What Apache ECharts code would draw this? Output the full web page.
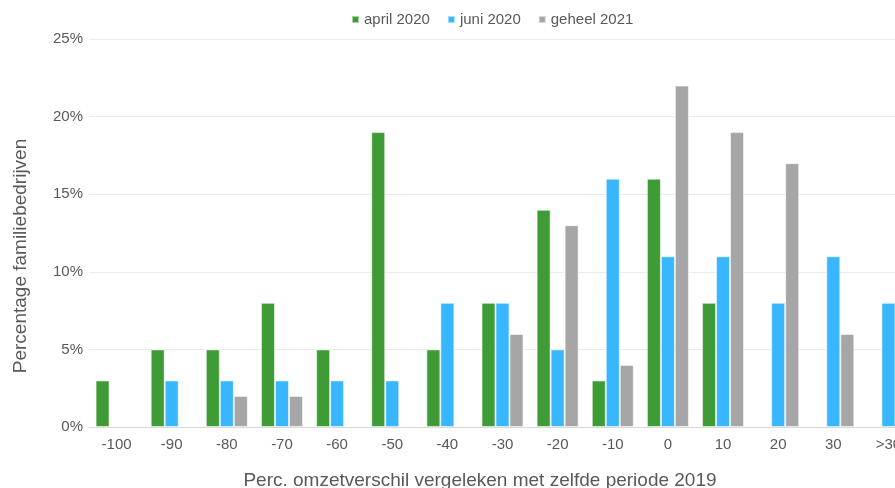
<!DOCTYPE html>
<html>
<head>
<meta charset="utf-8">
<script src="https://cdn.jsdelivr.net/npm/echarts@6/dist/echarts.min.js"></script>
<style>
  html, body { margin: 0; padding: 0; background: #fff; overflow: hidden; }
  #chart { width: 960px; height: 488px; }
</style>
</head>
<body>
<div id="chart"></div>
<script>
// categorieen (perc. omzetverschil)
const categories = ['-100', '-90', '-80', '-70', '-60', '-50', '-40', '-30', '-20', '-10', '0', '10', '20', '30', '>30'];
// percentages per periode
const april2020 = [3, 5, 5, 8, 5, 19, 5, 8, 14, 3, 16, 8, null, null, null];
const juni2020 = [null, 3, 3, 3, 3, 3, 8, 8, 5, 16, 11, 11, 8, 11, 8];
const geheel2021 = [null, null, 2, 2, null, null, null, 6, 13, 4, 22, 19, 17, 6, 6];
const seriesNames = ['april 2020', 'juni 2020', 'geheel 2021'];
const colors = ['#3f9b35', '#38b6ff', '#a6a6a6'];

const textColor = '#595959';
const font = 'Liberation Sans';

const chart = echarts.init(document.getElementById('chart'));
window.addEventListener('resize', () => chart.resize());

function barSeries(name, data) {
  return {
    name: name,
    type: 'bar',
    data: data,
    barWidth: 14,
    barGap: '0%',
    itemStyle: {
      borderColor: 'rgba(255,255,255,0.55)',
      borderWidth: 1
    }
  };
}

const option = {
  color: colors,
  animation: false,
  textStyle: { fontFamily: font, color: textColor },
  legend: {
    top: 7,
    left: 346,
    itemWidth: 7,
    itemHeight: 7,
    itemGap: 17,
    icon: 'rect',
    textStyle: { fontSize: 15, color: textColor, fontFamily: font },
    data: seriesNames
  },
  grid: {
    left: 89,
    right: 44,
    top: 39,
    bottom: 61
  },
  xAxis: {
    type: 'category',
    data: categories,
    axisTick: { show: false },
    axisLine: { lineStyle: { color: '#d9d9d9', width: 1 } },
    axisLabel: { fontSize: 15, color: textColor, margin: 10, fontFamily: font }
  },
  yAxis: {
    type: 'value',
    min: 0,
    max: 25,
    interval: 5,
    axisLine: { show: false },
    axisTick: { show: false },
    axisLabel: {
      fontSize: 15,
      color: textColor,
      margin: 6,
      fontFamily: font,
      formatter: '{value}%'
    },
    splitLine: { lineStyle: { color: '#ebebeb', width: 1 } }
  },
  graphic: [
    {
      type: 'text',
      x: 480,
      y: 481,
      style: {
        text: 'Perc. omzetverschil vergeleken met zelfde periode 2019',
        fill: textColor,
        fontSize: 19,
        fontFamily: font,
        align: 'center',
        verticalAlign: 'middle'
      }
    },
    {
      type: 'text',
      x: 21,
      y: 256,
      rotation: Math.PI / 2,
      style: {
        text: 'Percentage familiebedrijven',
        fill: textColor,
        fontSize: 19,
        fontFamily: font,
        align: 'center',
        verticalAlign: 'middle'
      }
    }
  ],
  series: [
    barSeries(seriesNames[0], april2020),
    barSeries(seriesNames[1], juni2020),
    barSeries(seriesNames[2], geheel2021)
  ]
};

chart.setOption(option, true);
</script>
</body>
</html>
